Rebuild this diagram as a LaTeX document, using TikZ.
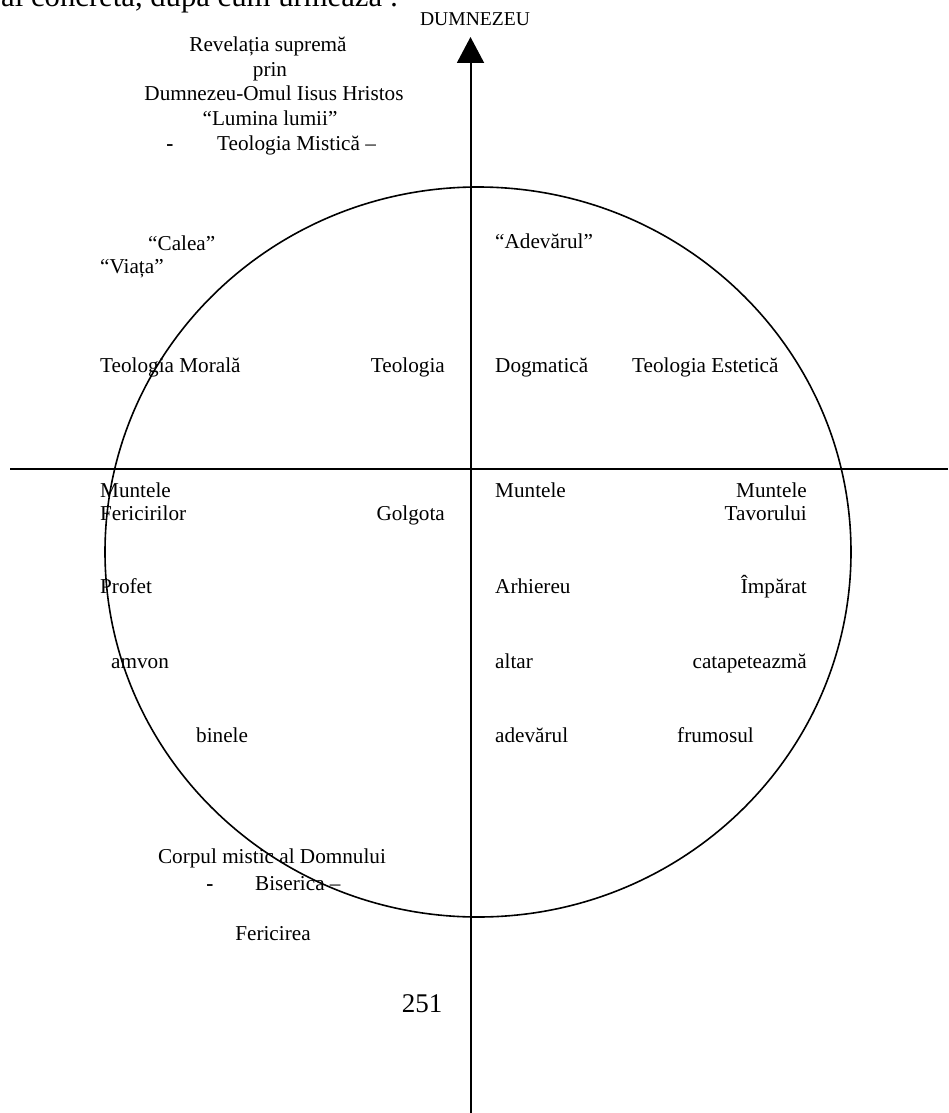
\documentclass[tikz,border=0pt]{standalone}
\usepackage{fontspec}
\setmainfont{Liberation Serif}
\usetikzlibrary{arrows.meta}
\begin{document}
\begin{tikzpicture}[x=1pt,y=-1pt,
  txt/.style={font=\fontsize{21.2}{24}\selectfont, inner sep=0pt},
  L/.style={txt, anchor=base west},
  R/.style={txt, anchor=base east},
  C/.style={txt, anchor=base},
  axis/.style={line width=2pt},
  ring/.style={line width=1.6pt}]
\path[use as bounding box, clip] (0,0) rectangle (948,1113);
\fill[white] (0,0) rectangle (948,1113);
% header cut off at top
\node[txt, anchor=base west, font=\fontsize{30.7}{36}\selectfont] (head) at (1,7) {ai concretă, după cum urmează :};
\node[C, font=\fontsize{19.6}{22}\selectfont] (dum) at (475,26) {DUMNEZEU};
% axes
\coordinate (vb) at (470.5,1113);
\coordinate (vt) at (470.5,37);
\coordinate (hl) at (10,469);
\coordinate (hr) at (948,469);
\draw[axis, -{Triangle[width=27pt,length=26pt]}] (vb) -- (vt);
\draw[axis] (hl) -- (hr);
% circle
\draw[ring] (478,552) ellipse [x radius=373, y radius=365];
% top block
\node[C] (rev) at (268,52) {Revelația supremă};
\node[C] (prin) at (270,76.5) {prin};
\node[C] (dom) at (274,101) {Dumnezeu-Omul Iisus Hristos};
\node[C] (lum) at (270,125.5) {“Lumina lumii”};
\node[C] (d1) at (170,150) {\textbf{-}};
\node[L] (mist) at (217,150) {Teologia Mistică –};
% upper quadrants
\node[L] (calea) at (148,250) {“Calea”};
\node[L] (viata) at (100,273) {“Viața”};
\node[L] (tmor) at (100,372) {Teologia Morală};
\node[R] (teol) at (445,372) {Teologia};
\node[L] (adev) at (495,248) {“Adevărul”};
\node[L] (dogm) at (495,372) {Dogmatică};
\node[L] (test) at (632,372) {Teologia Estetică};
% lower quadrants
\node[L] (m1) at (100,497) {Muntele};
\node[L] (fer) at (100,520) {Fericirilor};
\node[R] (golg) at (445,520) {Golgota};
\node[L] (m2) at (495,497) {Muntele};
\node[R] (m3) at (807,497) {Muntele};
\node[R] (tav) at (807,520) {Tavorului};
\node[L] (prof) at (100,593) {Profet};
\node[L] (arh) at (495,593) {Arhiereu};
\node[R] (imp) at (807,593) {Împărat};
\node[L] (amv) at (111,668) {amvon};
\node[L] (alt) at (495,668) {altar};
\node[R] (cat) at (807,668) {catapeteazmă};
\node[L] (bin) at (196,742) {binele};
\node[L] (adv) at (495,742) {adevărul};
\node[L] (frum) at (677,742) {frumosul};
% bottom block
\node[C] (corp) at (272,863) {Corpul mistic al Domnului};
\node[C] (d2) at (210,890) {\textbf{-}};
\node[L] (bis) at (255,890) {Biserica –};
\node[C] (fer2) at (273,940) {Fericirea};
\node[C, font=\fontsize{27}{32}\selectfont] (pg) at (422,1012) {251};
\end{tikzpicture}
\end{document}
